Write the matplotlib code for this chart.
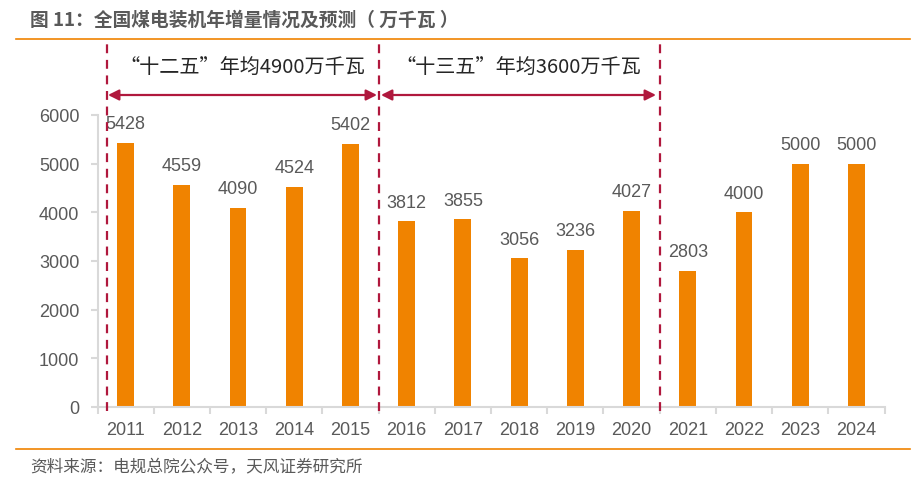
import matplotlib
matplotlib.use('Agg')
import matplotlib.pyplot as plt
from matplotlib.lines import Line2D

plt.rcParams['font.family'] = ['Liberation Sans', 'Noto Sans CJK SC', 'DejaVu Sans']

# Data
years = ['2011', '2012', '2013', '2014', '2015', '2016', '2017',
         '2018', '2019', '2020', '2021', '2022', '2023', '2024']
added = [5428, 4559, 4090, 4524, 5402, 3812, 3855,
         3056, 3236, 4027, 2803, 4000, 5000, 5000]
periods = ['“十二五”年均4900万千瓦', '“十三五”年均3600万千瓦']

BAR = '#F08300'
DASH = '#B0183D'
TXT = '#595959'
AXC = '#D9D9D9'
CJK = ['Noto Sans CJK SC', 'DejaVu Sans']

fig = plt.figure(figsize=(9.22, 4.89), dpi=100)
W, H = 922, 489

# Axes placed to match reference pixel layout
ax = fig.add_axes([97.5 / W, 1 - 408 / H, 787 / W, 292 / H])
x = list(range(len(years)))
ax.bar(x, added, width=0.3, color=BAR)
for xi, v in zip(x, added):
    ax.text(xi, v + 220, str(v), ha='center', va='bottom', fontsize=13, color=TXT)

ax.set_xlim(-0.5, len(years) - 0.5)
ax.set_ylim(0, 6000)
ax.set_yticks(range(0, 6001, 1000))
ax.set_xticks(x)
ax.set_xticklabels(years)
ax.set_xticks([i - 0.5 for i in range(len(years) + 1)], minor=True)
ax.tick_params(axis='x', which='major', length=0, pad=10, labelsize=13, labelcolor=TXT)
ax.tick_params(axis='x', which='minor', length=5, color=AXC, width=1.5)
ax.tick_params(axis='y', length=5, color=AXC, width=1.5, labelsize=13, labelcolor=TXT, pad=8)
for s in ['top', 'right']:
    ax.spines[s].set_visible(False)
for s in ['left', 'bottom']:
    ax.spines[s].set_color(AXC)
    ax.spines[s].set_linewidth(1.5)

# period separators and arrows
def px_to_x(px):
    return -0.5 + (px - 97.5) / (787 / len(years))

def py_to_y(py):
    return (408 - py) * 6000 / 292

for px in [107, 378.5, 660]:
    xv = px_to_x(px)
    ax.plot([xv, xv], [py_to_y(412), py_to_y(45)], color=DASH, lw=1.6,
            ls=(0, (4, 3)), clip_on=False, zorder=3)

arrows = [(108, 377), (381, 656)]
for (a, b), lab in zip(arrows, periods):
    ya = py_to_y(96)
    ax.annotate('', xy=(px_to_x(b), ya), xytext=(px_to_x(a), ya),
                arrowprops=dict(arrowstyle='<|-|>', color=DASH, lw=1.6,
                                mutation_scale=16, shrinkA=0, shrinkB=0),
                annotation_clip=False)
    ax.text(px_to_x((a + b) / 2), py_to_y(68), lab, ha='center', va='center',
            fontsize=14.5, color='#262626', family=CJK)

# title, rules and source
fig.text(30 / W, 1 - 20 / H, '图 11：全国煤电装机年增量情况及预测（ 万千瓦 ）',
         fontsize=13.5, fontweight='bold', color='#595959', va='center', family=CJK)
fig.add_artist(Line2D([16 / W, 910 / W], [1 - 40 / H, 1 - 40 / H], color=BAR, lw=1.2))
fig.add_artist(Line2D([16 / W, 910 / W], [1 - 450 / H, 1 - 450 / H], color=BAR, lw=1.2))
fig.text(30 / W, 1 - 468 / H, '资料来源：电规总院公众号，天风证券研究所',
         fontsize=12, color='#595959', va='center', family=CJK)

fig.savefig('out.png', dpi=100)
